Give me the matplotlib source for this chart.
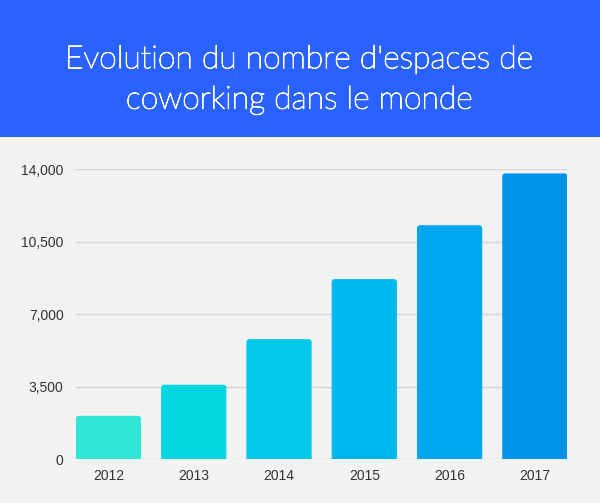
import matplotlib.pyplot as plt
import matplotlib.patheffects as pe
from matplotlib.patches import FancyBboxPatch, Rectangle

years = ['2012', '2013', '2014', '2015', '2016', '2017']
espaces = [2100, 3600, 5800, 8700, 11300, 13800]
couleurs = ['#30e6d6', '#00d6e0', '#00c8e8', '#00b8f0', '#00a7ee', '#0094e9']
yticks = [0, 3500, 7000, 10500, 14000]
titre = "Evolution du nombre d'espaces de\ncoworking dans le monde"

fig = plt.figure(figsize=(6.0, 5.03), dpi=100)
fig.patch.set_facecolor('#f2f2f2')

# bandeau bleu du titre
fig.patches.append(Rectangle((0, 1 - 137 / 503), 1, 137 / 503, transform=fig.transFigure,
                             facecolor='#2962ff', edgecolor='none', zorder=0))
fig.text(0.5, 1 - 80 / 503, titre, ha='center', va='center', color='white',
         fontsize=23, family='Lato', fontweight='light', linespacing=1.5,
         path_effects=[pe.withStroke(linewidth=0.7, foreground='white')])

ax = fig.add_axes([76 / 600, 1 - 459.3 / 503, 491.3 / 600, 290 / 503])
ax.set_facecolor('none')
ax.set_xlim(-0.38, 5.38)
ax.set_ylim(0, 14000)

w = 0.765
ry = 150
for i, v in enumerate(espaces):
    p = FancyBboxPatch((i - w / 2, -ry), w, v + ry,
                       boxstyle='round,pad=0,rounding_size=0.035',
                       mutation_aspect=ry / 0.035,
                       facecolor=couleurs[i], edgecolor='none', zorder=3)
    ax.add_patch(p)

ax.set_yticks(yticks)
ax.set_yticklabels([f'{t:,}' for t in yticks])
ax.set_xticks(range(len(years)))
ax.set_xticklabels(years)
ax.grid(axis='y', color='#d3d3d3', linewidth=1, zorder=0)
ax.tick_params(length=0, labelsize=10, labelcolor='#333333')
ax.tick_params(axis='y', pad=9)
ax.tick_params(axis='x', pad=7)
for s in ax.spines.values():
    s.set_visible(False)
for lab in ax.get_xticklabels() + ax.get_yticklabels():
    lab.set_family('Liberation Sans')

fig.savefig('out.png', dpi=100, facecolor=fig.get_facecolor())
